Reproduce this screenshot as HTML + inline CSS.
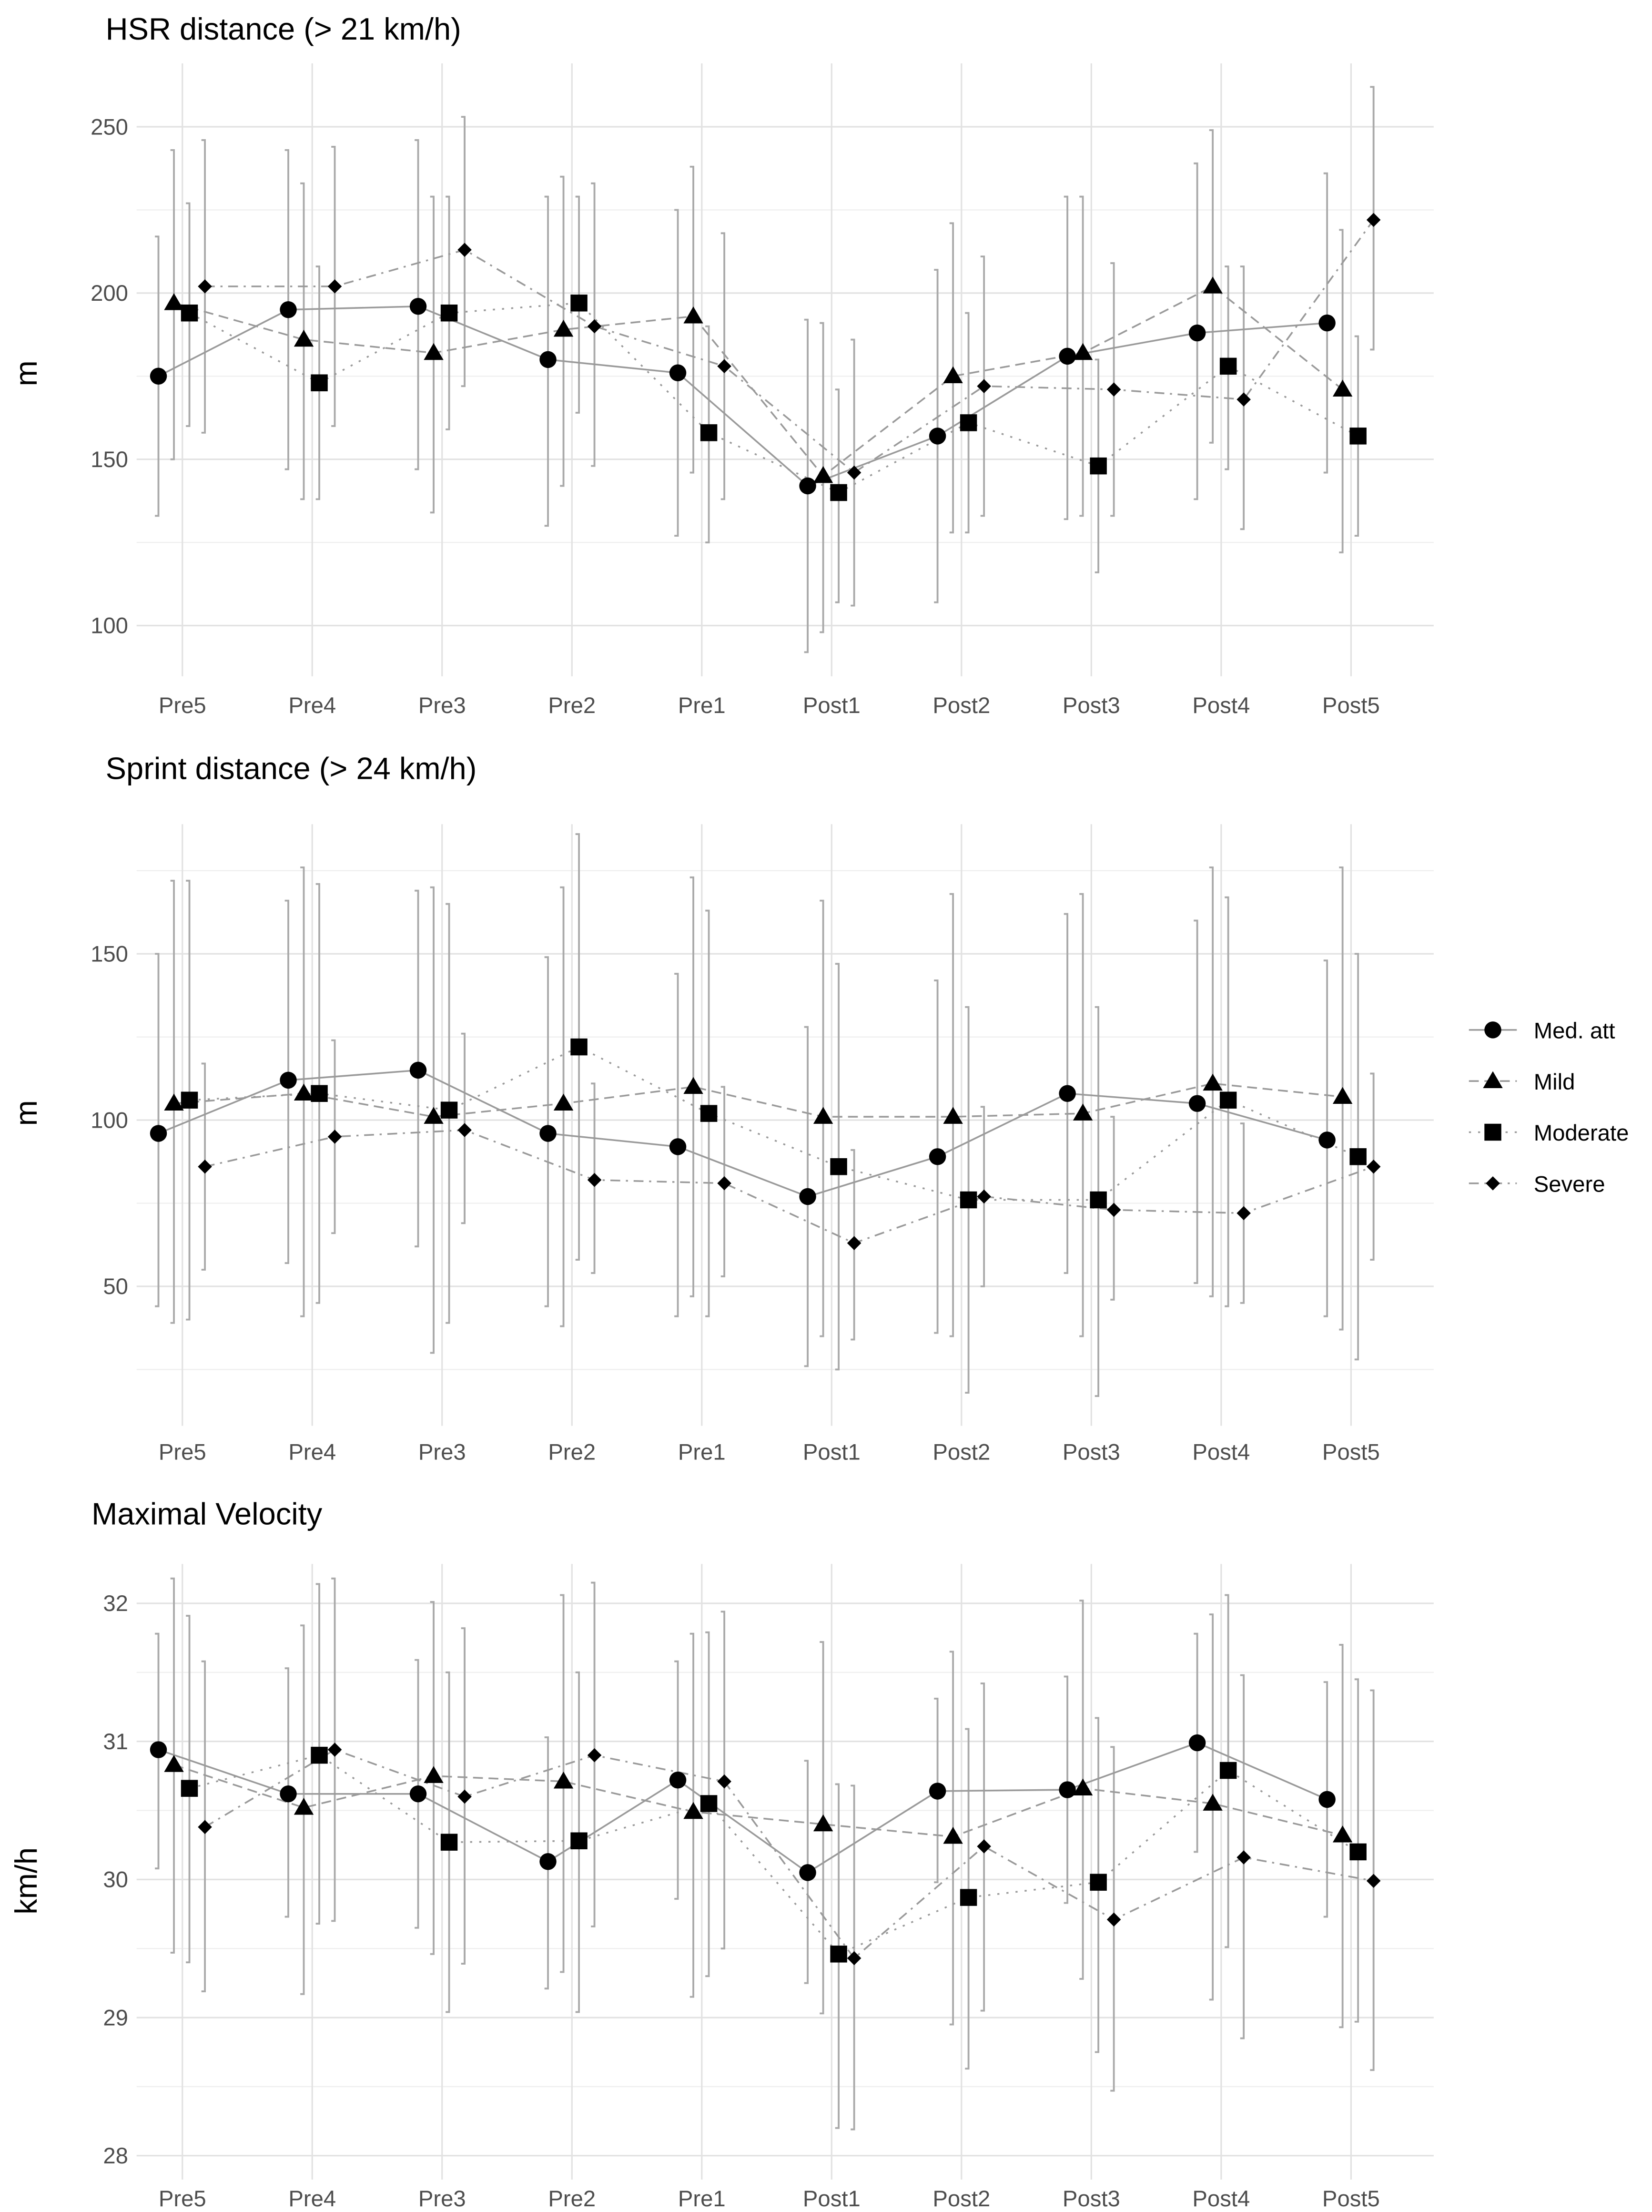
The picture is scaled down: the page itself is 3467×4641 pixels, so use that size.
<!DOCTYPE html>
<html><head><meta charset="utf-8"><style>
html,body{margin:0;padding:0;background:#fff}
svg{display:block}
text{font-family:"Liberation Sans",Arial,sans-serif}
</style></head><body>
<svg id="chart" width="3467" height="4641" viewBox="0 0 1173 1570" preserveAspectRatio="none" xmlns="http://www.w3.org/2000/svg"></svg>
<script>
const categories=["Pre5","Pre4","Pre3","Pre2","Pre1","Post1","Post2","Post3","Post4","Post5"];
const groups=["Med. att","Mild","Moderate","Severe"];
// HSR
const hsrMed=[175,195,196,180,176,142,157,181,188,191];
const hsrMedLo=[133,147,147,130,127,92,107,132,138,146];
const hsrMedHi=[217,243,246,229,225,192,207,229,239,236];
const hsrMild=[197,186,182,189,193,145,175,182,202,171];
const hsrMildLo=[150,138,134,142,146,98,128,133,155,122];
const hsrMildHi=[243,233,229,235,238,191,221,229,249,219];
const hsrMod=[194,173,194,197,158,140,161,148,178,157];
const hsrModLo=[160,138,159,164,125,107,128,116,147,127];
const hsrModHi=[227,208,229,229,190,171,194,180,208,187];
const hsrSev=[202,202,213,190,178,146,172,171,168,222];
const hsrSevLo=[158,160,172,148,138,106,133,133,129,183];
const hsrSevHi=[246,244,253,233,218,186,211,209,208,262];
const hsrTicks=[100,150,200,250];
// Sprint
const spMed=[96,112,115,96,92,77,89,108,105,94];
const spMedLo=[44,57,62,44,41,26,36,54,51,41];
const spMedHi=[150,166,169,149,144,128,142,162,160,148];
const spMild=[105,108,101,105,110,101,101,102,111,107];
const spMildLo=[39,41,30,38,47,35,35,35,47,37];
const spMildHi=[172,176,170,170,173,166,168,168,176,176];
const spMod=[106,108,103,122,102,86,76,76,106,89];
const spModLo=[40,45,39,58,41,25,18,17,44,28];
const spModHi=[172,171,165,186,163,147,134,134,167,150];
const spSev=[86,95,97,82,81,63,77,73,72,86];
const spSevLo=[55,66,69,54,53,34,50,46,45,58];
const spSevHi=[117,124,126,111,110,91,104,101,99,114];
const spTicks=[50,100,150];
// Velocity
const vMed=[30.94,30.62,30.62,30.13,30.72,30.05,30.64,30.65,30.99,30.58];
const vMedLo=[30.08,29.73,29.65,29.21,29.86,29.25,29.98,29.83,30.2,29.73];
const vMedHi=[31.78,31.53,31.59,31.03,31.58,30.86,31.31,31.47,31.78,31.43];
const vMild=[30.83,30.52,30.75,30.71,30.49,30.4,30.31,30.66,30.55,30.32];
const vMildLo=[29.47,29.17,29.46,29.33,29.15,29.03,28.95,29.28,29.13,28.93];
const vMildHi=[32.18,31.84,32.01,32.06,31.78,31.72,31.65,32.02,31.92,31.7];
const vMod=[30.66,30.9,30.27,30.28,30.55,29.46,29.87,29.98,30.79,30.2];
const vModLo=[29.4,29.68,29.04,29.04,29.3,28.2,28.63,28.75,29.51,28.97];
const vModHi=[31.91,32.14,31.5,31.5,31.79,30.69,31.09,31.17,32.06,31.45];
const vSev=[30.38,30.94,30.6,30.9,30.71,29.43,30.24,29.71,30.16,29.99];
const vSevLo=[29.19,29.7,29.39,29.66,29.5,28.19,29.05,28.47,28.85,28.62];
const vSevHi=[31.58,32.18,31.82,32.15,31.94,30.68,31.42,30.96,31.48,31.37];
const vTicks=[28,29,30,31,32];

const NS="http://www.w3.org/2000/svg";
const svg=document.getElementById('chart');
function mk(tag,attrs,parent){const e=document.createElementNS(NS,tag);for(const k in attrs)e.setAttribute(k,attrs[k]);(parent||svg).appendChild(e);return e;}
const X0=129.5,DX=92.2;
function xScale(i){return X0+i*DX;}
const offsets=[-17,-6,5,16];
const dashes=["none","7,4","1.5,5","7,4,1.5,4"];
function marker(g,t,x,y){
  let m;
  if(t===0)m=mk('circle',{cx:x,cy:y,r:6,fill:'#000'},g);
  else if(t===1)m=mk('polygon',{points:`${x},${y-7} ${x-7},${y+5} ${x+7},${y+5}`,fill:'#000'},g);
  else if(t===2)m=mk('rect',{x:x-6,y:y-6,width:12,height:12,fill:'#000'},g);
  else m=mk('polygon',{points:`${x},${y-5} ${x+5},${y} ${x},${y+5} ${x-5},${y}`,fill:'#000'},g);
  return m;
}
function panel(cfg){
  const pg=mk('g',{});
  
  
  const y=v=>cfg.y0+(v-cfg.v0)*cfg.k;
  for(const v of cfg.minor){mk('line',{x1:97,x2:1018,y1:y(v),y2:y(v),stroke:'#efefef','stroke-width':0.8},pg);}
  for(const v of cfg.ticks){
    const l=mk('line',{x1:97,x2:1018,y1:y(v),y2:y(v),stroke:'#e2e2e2','stroke-width':1.1},pg);
    
    const t=mk('text',{x:91,y:y(v)+5.5,'text-anchor':'end','font-size':16,fill:'#4d4d4d'},pg);t.textContent=v;
    
  }
  categories.forEach((c,i)=>{
    mk('line',{x1:xScale(i),x2:xScale(i),y1:cfg.top,y2:cfg.bottom,stroke:'#e2e2e2','stroke-width':1.1},pg);
    const t=mk('text',{x:xScale(i),y:cfg.labY,'text-anchor':'middle','font-size':16,fill:'#4d4d4d'},pg);t.textContent=c;
    
  });
  const tt=mk('text',{x:cfg.titleX,y:cfg.titleY,'font-size':22,fill:'#000'},pg);tt.textContent=cfg.title;
  
  const yl=mk('text',{x:0,y:0,'font-size':22,fill:'#000','text-anchor':'middle',transform:`translate(26,${cfg.midY}) rotate(-90)`},pg);yl.textContent=cfg.ylab;
  
  cfg.series.forEach((s,gi)=>{
    s.v.forEach((v,i)=>{
      const x=xScale(i)+offsets[gi];
      const b=mk('path',{d:`M${x-2.5},${y(s.hi[i])}H${x}V${y(s.lo[i])}H${x-2.5}`,stroke:'#a9a9a9','stroke-width':1.3,fill:'none'},pg);
      
    });
  });
  cfg.series.forEach((s,gi)=>{
    const d=s.v.map((v,i)=>(i?'L':'M')+(xScale(i)+offsets[gi])+','+y(v)).join('');
    const p=mk('path',{d:d,stroke:'#9a9a9a','stroke-width':1.2,fill:'none','stroke-dasharray':dashes[gi]},pg);
    
  });
  cfg.series.forEach((s,gi)=>{
    s.v.forEach((v,i)=>{
      const m=marker(pg,gi,xScale(i)+offsets[gi],y(v));
      
    });
  });
}
panel({name:'hsr-panel',title:'HSR distance (> 21 km/h)',titleX:75,titleY:28,ylab:'m',midY:265,y0:208,v0:200,k:-2.36,
  ticks:hsrTicks,minor:[125,175,225],top:45,bottom:480,labY:506,
  series:[{v:hsrMed,lo:hsrMedLo,hi:hsrMedHi},{v:hsrMild,lo:hsrMildLo,hi:hsrMildHi},{v:hsrMod,lo:hsrModLo,hi:hsrModHi},{v:hsrSev,lo:hsrSevLo,hi:hsrSevHi}]});
panel({name:'sprint-panel',title:'Sprint distance (> 24 km/h)',titleX:75,titleY:553,ylab:'m',midY:790,y0:795,v0:100,k:-2.36,
  ticks:spTicks,minor:[25,75,125,175],top:585,bottom:1012,labY:1036,
  series:[{v:spMed,lo:spMedLo,hi:spMedHi},{v:spMild,lo:spMildLo,hi:spMildHi},{v:spMod,lo:spModLo,hi:spModHi},{v:spSev,lo:spSevLo,hi:spSevHi}]});
panel({name:'velocity-panel',title:'Maximal Velocity',titleX:65,titleY:1082,ylab:'km/h',midY:1335,y0:1334,v0:30,k:-98,
  ticks:vTicks,minor:[28.5,29.5,30.5,31.5],top:1110,bottom:1547,labY:1566,
  series:[{v:vMed,lo:vMedLo,hi:vMedHi},{v:vMild,lo:vMildLo,hi:vMildHi},{v:vMod,lo:vModLo,hi:vModHi},{v:vSev,lo:vSevLo,hi:vSevHi}]});
const lg=mk('g',{});


groups.forEach((g,gi)=>{
  const yy=731+gi*36.3;
  const e=mk('g',{},lg);
  
  
  mk('line',{x1:1043,x2:1077,y1:yy,y2:yy,stroke:'#9a9a9a','stroke-width':1.2,'stroke-dasharray':dashes[gi]},e);
  marker(e,gi,1060,yy);
  const t=mk('text',{x:1089,y:yy+6,'font-size':16,fill:'#000'},e);t.textContent=g;
});
</script>
</body></html>
